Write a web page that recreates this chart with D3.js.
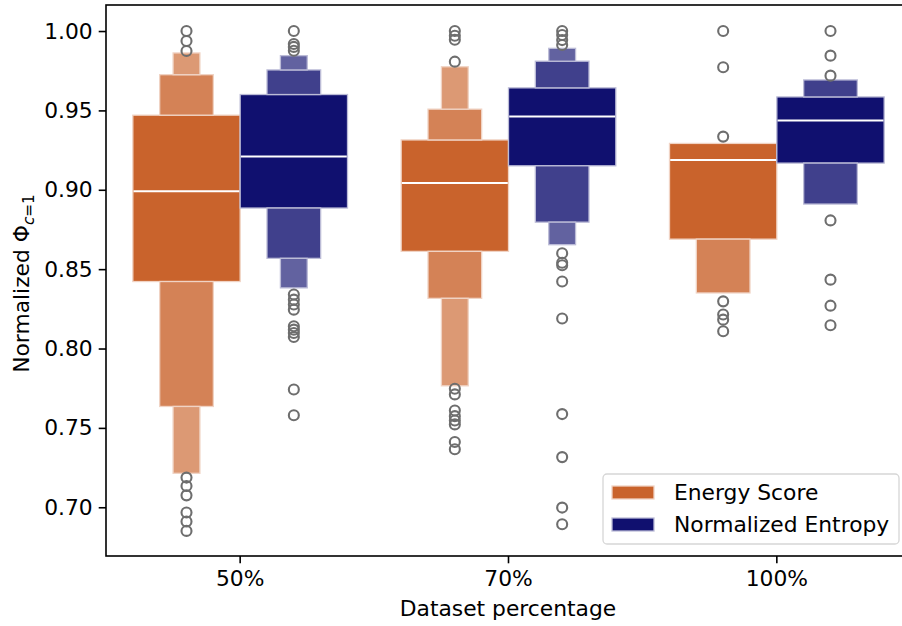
<!DOCTYPE html>
<html>
<head>
<meta charset="utf-8">
<script src="https://cdn.jsdelivr.net/npm/d3@7"></script>
<style>
  html, body { margin: 0; padding: 0; background: #fff; }
  svg { display: block; font-family: "DejaVu Sans", sans-serif; }
</style>
</head>
<body>
<svg id="chart" width="902" height="626"></svg>
<script>
// Categories and series
const categories = ["50%", "70%", "100%"];
const seriesNames = ["Energy Score", "Normalized Entropy"];
const seriesColors = ["#C9632C", "#10106F"];

// Letter values per category: inner (quartile) first, then successive outer levels
const energyLower  = [[0.8422, 0.7635, 0.7214], [0.8612, 0.8316, 0.7765], [0.8689, 0.8350]];
const energyMedian = [0.8991, 0.9042, 0.9188];
const energyUpper  = [[0.9470, 0.9725, 0.9862], [0.9314, 0.9508, 0.9775], [0.9292]];
const energyOutliers = [
  [1.000, 0.9937, 0.9874, 0.7187, 0.7134, 0.7075, 0.6967, 0.6910, 0.6851],
  [1.000, 0.9970, 0.9945, 0.9807, 0.7747, 0.7711, 0.7610, 0.7574, 0.7547, 0.7522, 0.7411, 0.7365],
  [1.000, 0.9772, 0.9335, 0.8297, 0.8214, 0.8182, 0.8109]
];

const entropyLower  = [[0.8885, 0.8568, 0.8382], [0.9151, 0.8796, 0.8654], [0.9168, 0.8910]];
const entropyMedian = [0.9210, 0.9461, 0.9436];
const entropyUpper  = [[0.9600, 0.9755, 0.9845], [0.9642, 0.9810, 0.9891], [0.9585, 0.9692]];
const entropyOutliers = [
  [1.000, 0.9918, 0.9900, 0.9876, 0.8340, 0.8308, 0.8277, 0.8245, 0.8140, 0.8119, 0.8098, 0.8073, 0.7742, 0.7580],
  [1.000, 0.9975, 0.9943, 0.9912, 0.8600, 0.8540, 0.8525, 0.8422, 0.8189, 0.7587, 0.7316, 0.6998, 0.6893],
  [1.000, 0.9845, 0.9719, 0.8807, 0.8434, 0.8270, 0.8147]
];

const yTicks = [0.70, 0.75, 0.80, 0.85, 0.90, 0.95, 1.00];
const yDomain = [0.6693, 1.0164];

const series = [
  { name: seriesNames[0], color: seriesColors[0], lower: energyLower, median: energyMedian, upper: energyUpper, outliers: energyOutliers },
  { name: seriesNames[1], color: seriesColors[1], lower: entropyLower, median: entropyMedian, upper: entropyUpper, outliers: entropyOutliers }
];

const FS = 21.8;
const svg = d3.select("#chart");
const plot = { left: 106, right: 911, top: 5, bottom: 556 };

const x = d3.scaleBand().domain(categories).range([plot.left, plot.right]).padding(0);
const hueOffset = d3.scaleBand().domain(seriesNames).range([-0.4, 0.4]).padding(0);
const y = d3.scaleLinear().domain(yDomain).range([plot.bottom, plot.top]);
const bw = x.bandwidth();

const g = svg.append("g");

// Letter-value boxes
series.forEach((s, si) => {
  const mix = t => d3.interpolateRgb(s.color, "#ffffff")(t);
  categories.forEach((cat, ci) => {
    const cx = x(cat) + bw / 2 + (hueOffset(s.name) + hueOffset.bandwidth() / 2) * bw;
    const fullW = hueOffset.bandwidth() * bw;
    const lower = s.lower[ci], upper = s.upper[ci];
    const nLevels = Math.max(lower.length, upper.length);
    const shades = [0, 0.2, 0.343, 0.45];
    const boxes = [];
    // main box spans the quartiles
    boxes.push({ lo: lower[0], hi: upper[0], level: 0 });
    for (let k = 1; k < nLevels; k++) {
      if (k < lower.length) boxes.push({ lo: lower[k], hi: lower[k - 1], level: k });
      if (k < upper.length) boxes.push({ lo: upper[k - 1], hi: upper[k], level: k });
    }
    g.selectAll(null).data(boxes).join("rect")
      .attr("x", d => cx - fullW * Math.pow(0.5, d.level) / 2)
      .attr("width", d => fullW * Math.pow(0.5, d.level))
      .attr("y", d => y(d.hi))
      .attr("height", d => y(d.lo) - y(d.hi))
      .attr("fill", d => mix(shades[d.level]))
      .attr("stroke", d => mix(0.72))
      .attr("stroke-width", 1.3);
    // median
    g.append("line")
      .attr("x1", cx - fullW / 2 + 0.7).attr("x2", cx + fullW / 2 - 0.7)
      .attr("y1", y(s.median[ci])).attr("y2", y(s.median[ci]))
      .attr("stroke", "#ffffff").attr("stroke-width", 2);
  });
});

// Outliers
series.forEach(s => {
  categories.forEach((cat, ci) => {
    const cx = x(cat) + bw / 2 + (hueOffset(s.name) + hueOffset.bandwidth() / 2) * bw;
    g.selectAll(null).data(s.outliers[ci]).join("circle")
      .attr("cx", cx).attr("cy", d => y(d)).attr("r", 5)
      .attr("fill", "none").attr("stroke", "#6e6e6e").attr("stroke-width", 2.1);
  });
});

// Axes
const yAxis = d3.axisLeft(y).tickValues(yTicks).tickFormat(d3.format(".2f"))
  .tickSize(7.3).tickPadding(6).tickSizeOuter(0);
const xAxis = d3.axisBottom(x).tickSize(7.3).tickPadding(7).tickSizeOuter(0);

const ya = svg.append("g").attr("transform", `translate(${plot.left},0)`).call(yAxis);
const xa = svg.append("g").attr("transform", `translate(0,${plot.bottom})`).call(xAxis);
[ya, xa].forEach(a => {
  a.select(".domain").remove();
  a.selectAll(".tick line").attr("stroke", "#000").attr("stroke-width", 1.6);
  a.selectAll(".tick text").attr("fill", "#000").style("font-size", FS + "px").style("font-family", "DejaVu Sans");
});

// Frame
svg.append("rect")
  .attr("x", plot.left).attr("y", plot.top)
  .attr("width", plot.right - plot.left).attr("height", plot.bottom - plot.top)
  .attr("fill", "none").attr("stroke", "#000").attr("stroke-width", 1.6);

// Axis labels
svg.append("text")
  .attr("x", 508).attr("y", 616)
  .attr("text-anchor", "middle").style("font-size", FS + "px")
  .text("Dataset percentage");

const yl = svg.append("text")
  .attr("transform", `translate(29,${(plot.top + plot.bottom) / 2 + 3}) rotate(-90)`)
  .attr("text-anchor", "middle").style("font-size", FS + "px");
yl.append("tspan").text("Normalized Φ");
yl.append("tspan").attr("dy", 4.5).style("font-size", (FS * 0.7) + "px").style("font-style", "italic").text("c");
yl.append("tspan").attr("dy", 0).style("font-size", (FS * 0.7) + "px").text("=1");

// Legend
const lg = svg.append("g");
lg.append("rect")
  .attr("x", 603).attr("y", 474).attr("width", 296).attr("height", 70).attr("rx", 4)
  .attr("fill", "#fff").attr("fill-opacity", 0.8)
  .attr("stroke", "#d6d6d6").attr("stroke-width", 1.3);
seriesNames.forEach((name, i) => {
  const yy = 486 + i * 32;
  lg.append("rect").attr("x", 612).attr("y", yy).attr("width", 42).attr("height", 13)
    .attr("fill", seriesColors[i])
    .attr("stroke", d3.interpolateRgb(seriesColors[i], "#fff")(0.72)).attr("stroke-width", 1.3);
  lg.append("text").attr("x", 674).attr("y", yy + 6.5).attr("dy", "0.36em")
    .style("font-size", FS + "px").text(name);
});
</script>
</body>
</html>
